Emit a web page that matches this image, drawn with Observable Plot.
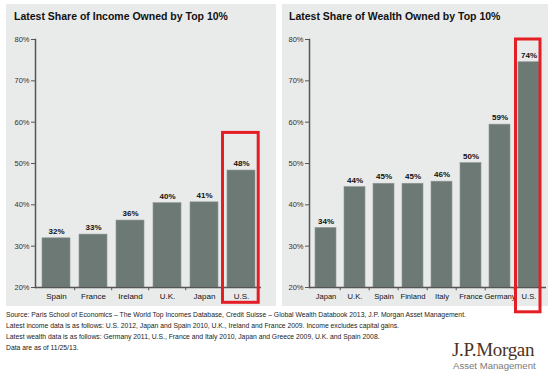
<!DOCTYPE html>
<html>
<head>
<meta charset="utf-8">
<script src="https://cdn.jsdelivr.net/npm/d3@7"></script>
<script src="https://cdn.jsdelivr.net/npm/@observablehq/plot@0.6"></script>
<style>
  html, body { margin: 0; padding: 0; background: #fff; }
  body { width: 550px; height: 374px; position: relative; overflow: hidden; font-family: "Liberation Sans", Arial, sans-serif; }
  .panel { position: absolute; background: #e9eaea; }
  .panel svg { position: absolute; left: 0; top: 0; overflow: visible; }
  .title { position: absolute; font-weight: bold; font-size: 10.5px; color: #111; white-space: nowrap; }
  .notes { position: absolute; left: 6px; top: 309px; font-size: 6.8px; color: #222; line-height: 11px; white-space: nowrap; }
  .logo1 { position: absolute; left: 452px; top: 339px; font-family: "Liberation Serif", "Times New Roman", serif; font-size: 19px; color: #4a3323; letter-spacing: -0.3px; white-space: nowrap; }
  .logo2 { position: absolute; left: 453px; top: 360px; font-size: 9.6px; color: #7a7a7a; white-space: nowrap; }
</style>
</head>
<body>
<div class="panel" id="p1" style="left:6px; top:4px; width:270px; height:302px;">
  <div class="title" style="left:8px; top:6px;">Latest Share of Income Owned by Top 10%</div>
</div>
<div class="panel" id="p2" style="left:282px; top:4px; width:266px; height:302px;">
  <div class="title" style="left:7px; top:6px;">Latest Share of Wealth Owned by Top 10%</div>
</div>
<div class="notes">
  Source: Paris School of Economics – The World Top Incomes Database, Credit Suisse – Global Wealth Databook 2013, J.P. Morgan Asset Management.<br>
  Latest income data is as follows: U.S. 2012, Japan and Spain 2010, U.K., Ireland and France 2009. Income excludes capital gains.<br>
  Latest wealth data is as follows: Germany 2011, U.S., France and Italy 2010, Japan and Greece 2009, U.K. and Spain 2008.<br>
  Data are as of 11/25/13.
</div>
<div class="logo1">J.P.Morgan</div>
<div class="logo2">Asset Management</div>
<script>
const incomeCountries = ["Spain", "France", "Ireland", "U.K.", "Japan", "U.S."];
const incomeValues = [31.9, 32.8, 36.2, 40.4, 40.6, 48.3];
const incomeLabels = ["32%", "33%", "36%", "40%", "41%", "48%"];

const wealthCountries = ["Japan", "U.K.", "Spain", "Finland", "Italy", "France", "Germany", "U.S."];
const wealthValues = [34.4, 44.3, 45.1, 45.1, 45.6, 50.1, 59.4, 74.5];
const wealthLabels = ["34%", "44%", "45%", "45%", "46%", "50%", "59%", "74%"];

const yTicks = [20, 30, 40, 50, 60, 70, 80];
const incomeHighlight = [{country: "U.S.", lo: 16.3, hi: 57.4}];
const wealthHighlight = [{country: "U.S.", lo: 14.0, hi: 80.0}];

function chart(countries, values, labels, highlight, opts) {
  const data = countries.map((c, i) => ({country: c, value: values[i], label: labels[i]}));
  const step = (opts.width - opts.marginLeft - opts.marginRight) / (countries.length - opts.pi + 2 * opts.po);
  return Plot.plot({
    width: opts.width,
    height: 302,
    marginTop: 35,
    marginBottom: 19,
    marginLeft: opts.marginLeft,
    marginRight: opts.marginRight,
    style: {background: "transparent", fontFamily: "'Liberation Sans', Arial, sans-serif", fontSize: "8px", overflow: "visible"},
    x: {domain: countries, paddingInner: opts.pi, paddingOuter: opts.po, label: null},
    y: {domain: [20, 80], label: null},
    marks: [
      Plot.barY(data, {x: "country", y1: 20, y2: "value", fill: "#6d7974", stroke: "#8e9893", strokeWidth: 0.6}),
      Plot.text(data, {x: "country", y: "value", text: "label", dy: -7, fontWeight: "bold", fontSize: 8, fill: "#111"}),
      Plot.ruleX(countries.slice(1), {x: d => d, y1: 20, y2: 19.2, dx: -step / 2, stroke: "#555", strokeWidth: 1}),
      Plot.ruleY([20], {stroke: "#555", strokeWidth: 1.5}),
      Plot.frame({anchor: "left", stroke: "#555", strokeWidth: 1.5}),
      Plot.axisY({ticks: yTicks, tickFormat: d => d + "%", tickSize: 4, tickPadding: 2, fill: "#333", stroke: "#555", fontSize: 7.5}),
      Plot.axisX({tickSize: 0, tickPadding: 6, fill: "#111", fontSize: opts.xfs}),
      Plot.barY(highlight, {x: "country", y1: "lo", y2: "hi", fill: "none", stroke: "#e51d25", strokeWidth: 3, insetLeft: opts.hl, insetRight: opts.hr})
    ]
  });
}

document.getElementById("p1").appendChild(
  chart(incomeCountries, incomeValues, incomeLabels, incomeHighlight,
    {width: 270, marginLeft: 29, marginRight: 15, pi: 0.25, po: 0.133, hl: -4.5, hr: -3.2, xfs: 8}));
document.getElementById("p2").appendChild(
  chart(wealthCountries, wealthValues, wealthLabels, wealthHighlight,
    {width: 266, marginLeft: 27, marginRight: 2, pi: 0.265, po: 0.135, hl: -2.5, hr: -1, xfs: 7.6}));
</script>
</body>
</html>
